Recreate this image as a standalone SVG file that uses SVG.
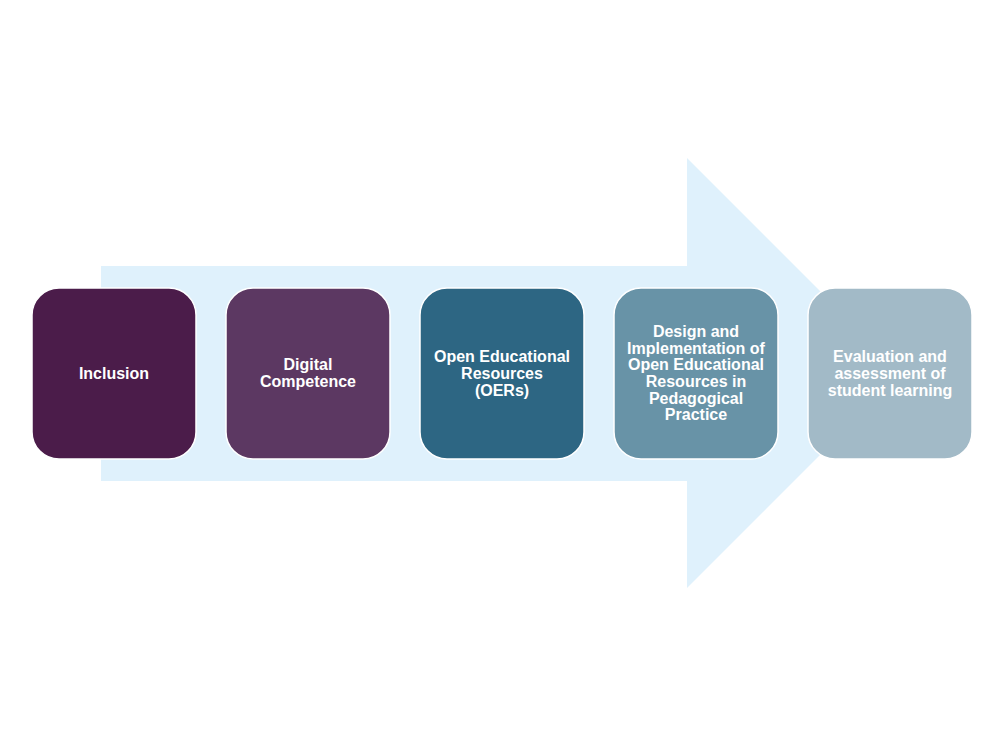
<svg xmlns="http://www.w3.org/2000/svg" width="1000" height="746" viewBox="0 0 1000 746">
<style>
.box{stroke:#fff;stroke-width:1.5}
.t{font-family:"Liberation Sans",Arial,sans-serif;font-weight:bold;font-size:16px;fill:#fff;text-anchor:middle}
</style>
<rect width="1000" height="746" fill="#fff"/>
<g id="arrow">
<path d="M101,266 H687 V158 L902,373 L687,588 V481 H101 Z" fill="#DFF1FC"/>
</g>
<g id="connectors"></g>
<g id="n1">
<rect class="box" x="32" y="288" width="164" height="171" rx="27" fill="#4B1C4A"/>
<text class="t" x="114" y="379">Inclusion</text>
</g>
<g id="n2">
<rect class="box" x="226" y="288" width="164" height="171" rx="27" fill="#5C3862"/>
<text class="t" x="308" y="370">Digital</text>
<text class="t" x="308" y="387">Competence</text>
</g>
<g id="n3">
<rect class="box" x="420" y="288" width="164" height="171" rx="27" fill="#2D6683"/>
<text class="t" x="502" y="362">Open Educational</text>
<text class="t" x="502" y="379">Resources</text>
<text class="t" x="502" y="395.5">(OERs)</text>
</g>
<g id="n4">
<rect class="box" x="614" y="288" width="164" height="171" rx="27" fill="#6893A7"/>
<text class="t" x="696" y="337">Design and</text>
<text class="t" x="696" y="353.5">Implementation of</text>
<text class="t" x="696" y="370">Open Educational</text>
<text class="t" x="696" y="387">Resources in</text>
<text class="t" x="696" y="403.5">Pedagogical</text>
<text class="t" x="696" y="420">Practice</text>
</g>
<g id="n5">
<rect class="box" x="808" y="288" width="164" height="171" rx="27" fill="#A2BAC7"/>
<text class="t" x="890" y="362">Evaluation and</text>
<text class="t" x="890" y="379">assessment of</text>
<text class="t" x="890" y="395.5">student learning</text>
</g>
</svg>
